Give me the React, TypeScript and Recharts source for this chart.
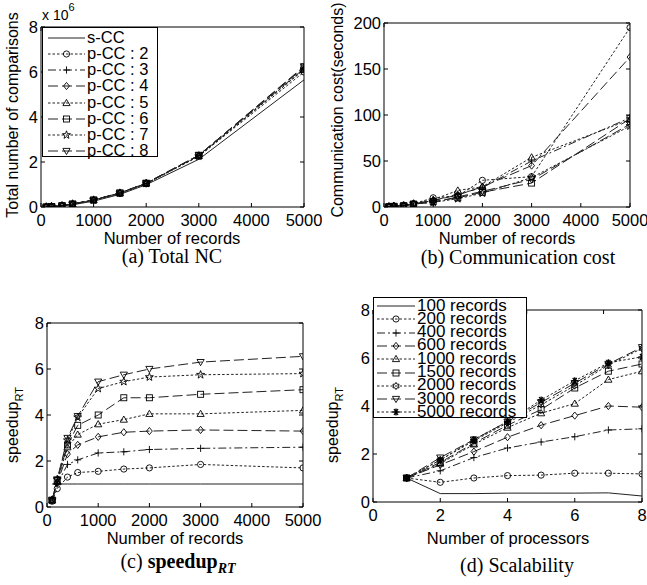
import React from 'react';
import { LineChart, Line, XAxis, YAxis } from 'recharts';

// ---------- data ----------
const records = [100, 200, 400, 600, 1000, 1500, 2000, 3000, 5000];
const processors = [1, 2, 3, 4, 5, 6, 7, 8];

const recTicks = [0, 1000, 2000, 3000, 4000, 5000];
const procTicks = [0, 2, 4, 6, 8];
const ncTicks = [0, 2e6, 4e6, 6e6, 8e6];
const ccTicks = [0, 50, 100, 150, 200];
const spTicks = [0, 2, 4, 6, 8];

// (a) total number of comparisons
const ncSCC = [5000, 20000, 45000, 100000, 260000, 560000, 990000, 2120000, 5650000];
const ncP2 = [6000, 22000, 60000, 130000, 300000, 600000, 1030000, 2250000, 6000000];
const ncP3 = [6000, 22000, 60000, 130000, 310000, 620000, 1050000, 2280000, 6150000];
const ncP4 = [6000, 22000, 62000, 135000, 310000, 620000, 1050000, 2300000, 6200000];
const ncP5 = [6000, 22000, 62000, 135000, 310000, 620000, 1050000, 2270000, 6100000];
const ncP6 = [6000, 23000, 62000, 135000, 315000, 625000, 1060000, 2300000, 6220000];
const ncP7 = [6000, 23000, 62000, 135000, 310000, 620000, 1050000, 2260000, 6120000];
const ncP8 = [6000, 23000, 63000, 140000, 315000, 630000, 1060000, 2300000, 6250000];

// (b) communication cost in seconds
const ccP2 = [0.6, 1.0, 1.6, 3.5, 10, 12, 29, 33, 195];
const ccP3 = [0.5, 0.9, 1.5, 3.3, 7, 14, 21, 50, 97];
const ccP4 = [0.5, 0.9, 1.6, 3.6, 7, 13, 22, 45, 163];
const ccP5 = [0.5, 0.9, 1.7, 3.8, 8, 18, 22, 54, 95];
const ccP6 = [0.4, 0.8, 1.4, 3.2, 6, 10, 16, 26, 96];
const ccP7 = [0.4, 0.8, 1.4, 3.3, 5, 9, 15, 32, 88];
const ccP8 = [0.4, 0.8, 1.4, 3.2, 5, 11, 17, 30, 90];

// (c) speedup_RT against number of records
const spSCC = [1, 1, 1, 1, 1, 1, 1, 1, 1];
const spP2 = [0.25, 0.8, 1.3, 1.5, 1.55, 1.65, 1.7, 1.85, 1.7];
const spP3 = [0.3, 1.0, 1.85, 2.05, 2.35, 2.4, 2.5, 2.55, 2.6];
const spP4 = [0.3, 1.05, 2.3, 2.7, 3.05, 3.25, 3.3, 3.35, 3.3];
const spP5 = [0.3, 1.1, 2.6, 3.15, 3.6, 3.8, 4.05, 4.05, 4.2];
const spP6 = [0.3, 1.15, 2.7, 3.55, 4.0, 4.75, 4.75, 4.9, 5.1];
const spP7 = [0.3, 1.2, 2.9, 3.9, 5.15, 5.45, 5.65, 5.75, 5.8];
const spP8 = [0.3, 1.2, 3.0, 3.95, 5.45, 5.75, 6.0, 6.3, 6.55];

// (d) speedup_RT against number of processors
const sc100 = [1, 0.35, 0.35, 0.37, 0.37, 0.37, 0.38, 0.25];
const sc200 = [1, 0.82, 1.0, 1.1, 1.12, 1.2, 1.2, 1.17];
const sc400 = [1, 1.3, 1.85, 2.25, 2.5, 2.72, 3.0, 3.05];
const sc600 = [1, 1.55, 2.1, 2.7, 3.2, 3.6, 4.0, 3.95];
const sc1000 = [1, 1.6, 2.4, 3.1, 3.7, 4.1, 5.1, 5.45];
const sc1500 = [1, 1.65, 2.45, 3.2, 3.85, 4.75, 5.45, 5.75];
const sc2000 = [1, 1.75, 2.55, 3.3, 4.05, 4.85, 5.7, 6.4];
const sc3000 = [1, 1.85, 2.6, 3.35, 4.15, 4.95, 5.75, 6.45];
const sc5000 = [1, 1.75, 2.6, 3.35, 4.25, 5.05, 5.8, 6.05];

const pccLabels = ['p-CC : 2', 'p-CC : 3', 'p-CC : 4', 'p-CC : 5', 'p-CC : 6', 'p-CC : 7', 'p-CC : 8'];
const recLabels = ['100 records', '200 records', '400 records', '600 records', '1000 records',
  '1500 records', '2000 records', '3000 records', '5000 records'];

// ---------- styles ----------
const FONT = '"Liberation Sans", Arial, Helvetica, sans-serif';
const SERIF = '"Liberation Serif", "Times New Roman", serif';
const DOT = '2.5 2';
const DASH = '10 4';
const DASHDOT = '8 3 2 3';
const LINE_COLOR = '#222';

const pccStyle = [
  { dash: DOT, shape: 'circle' },
  { dash: DASHDOT, shape: 'plus' },
  { dash: DASH, shape: 'diamond' },
  { dash: DOT, shape: 'triangle' },
  { dash: DASH, shape: 'square' },
  { dash: DOT, shape: 'pentagram' },
  { dash: DASH, shape: 'triangleDown' },
];
const recStyle = [
  { dash: undefined, shape: null },
  { dash: DOT, shape: 'circle' },
  { dash: DASHDOT, shape: 'plus' },
  { dash: DASH, shape: 'diamond' },
  { dash: DOT, shape: 'triangle' },
  { dash: DASH, shape: 'square' },
  { dash: DOT, shape: 'hexagram' },
  { dash: DASH, shape: 'triangleDown' },
  { dash: DOT, shape: 'asterisk' },
];

function starPoints(cx: number, cy: number, n: number, ro: number, ri: number) {
  const pts: string[] = [];
  for (let i = 0; i < n * 2; i++) {
    const r = i % 2 === 0 ? ro : ri;
    const a = -Math.PI / 2 + (i * Math.PI) / n;
    pts.push(`${cx + r * Math.cos(a)},${cy + r * Math.sin(a)}`);
  }
  return pts.join(' ');
}

function Marker({ shape, cx, cy }: { shape: string; cx: number; cy: number }) {
  const st = { fill: 'none', stroke: '#000', strokeWidth: 0.9 };
  const s = 3.6;
  if (cx == null || cy == null) return <g />;
  switch (shape) {
    case 'circle':
      return <circle cx={cx} cy={cy} r={3.1} {...st} />;
    case 'plus':
      return <path d={`M${cx - s} ${cy}H${cx + s}M${cx} ${cy - s}V${cy + s}`} {...st} />;
    case 'diamond':
      return <path d={`M${cx} ${cy - s}L${cx + 2.9} ${cy}L${cx} ${cy + s}L${cx - 2.9} ${cy}Z`} {...st} />;
    case 'triangle':
      return <path d={`M${cx} ${cy - s}L${cx + s} ${cy + 2.6}L${cx - s} ${cy + 2.6}Z`} {...st} />;
    case 'triangleDown':
      return <path d={`M${cx} ${cy + s}L${cx + s} ${cy - 2.6}L${cx - s} ${cy - 2.6}Z`} {...st} />;
    case 'square':
      return <rect x={cx - 3} y={cy - 3} width={6} height={6} {...st} />;
    case 'pentagram':
      return <polygon points={starPoints(cx, cy, 5, 4.2, 1.7)} {...st} />;
    case 'hexagram':
      return <polygon points={starPoints(cx, cy, 6, 3.6, 2.1)} {...st} />;
    case 'asterisk':
      return (
        <path
          d={`M${cx - s} ${cy}H${cx + s}M${cx - 2} ${cy - 3}L${cx + 2} ${cy + 3}M${cx + 2} ${cy - 3}L${cx - 2} ${cy + 3}M${cx} ${cy - s}V${cy + s}`}
          fill="none" stroke="#000" strokeWidth={1.3}
        />
      );
    default:
      return <g />;
  }
}

const dotFor = (shape: string) => (p: any) => (
  <Marker key={`m${p.index}`} shape={shape} cx={p.cx} cy={p.cy} />
);

function series(key: string, dash: string | undefined, shape: string | null) {
  return (
    <Line
      key={key}
      dataKey={key}
      type="linear"
      stroke={LINE_COLOR}
      strokeWidth={1}
      strokeDasharray={dash}
      dot={shape ? dotFor(shape) : false}
      activeDot={false}
      isAnimationActive={false}
    />
  );
}

const tickStyle = { fill: '#000', fontSize: 16.5, fontFamily: FONT };
const noTick = () => <g />;

function axes(xDomain: number[], xTicks: number[], yDomain: number[], yTicks: number[], yFmt?: (v: number) => string) {
  return [
    <XAxis key="xb" dataKey="x" type="number" domain={xDomain} ticks={xTicks} interval={0} height={30}
      tickSize={-4} tickMargin={11} stroke="#000" tick={tickStyle} allowDataOverflow />,
    <YAxis key="yl" type="number" domain={yDomain} ticks={yTicks} interval={0} width={40}
      tickSize={-4} tickMargin={7} stroke="#000" tick={tickStyle} tickFormatter={yFmt} allowDataOverflow />,
    <XAxis key="xt" xAxisId="top" orientation="top" type="number" domain={xDomain} ticks={xTicks} interval={0}
      height={1} tickSize={-4} stroke="#000" tick={noTick} allowDataOverflow />,
    <YAxis key="yr" yAxisId="right" orientation="right" type="number" domain={yDomain} ticks={yTicks} interval={0}
      width={1} tickSize={-4} stroke="#000" tick={noTick} allowDataOverflow />,
  ];
}

type Box = { l: number; t: number; r: number; b: number };
type Frame = { x: number; y: number; w: number; h: number };

function margins(box: Box, fr: Frame) {
  return {
    left: box.l - fr.x - 40,
    top: box.t - fr.y - 1,
    right: fr.x + fr.w - box.r - 1,
    bottom: fr.y + fr.h - box.b - 30,
  };
}

function rows(xs: number[], cols: number[][], prefix: string) {
  return xs.map((x, i) => {
    const row: Record<string, number> = { x };
    cols.forEach((c, k) => (row[`${prefix}${k}`] = c[i]));
    return row;
  });
}

function Txt({ x, y, rotate, size = 16, family = FONT, children }: any) {
  return (
    <div
      style={{
        position: 'absolute', left: x, top: y,
        transform: `translate(-50%,-50%)${rotate ? ' rotate(-90deg)' : ''}`,
        fontSize: size, fontFamily: family, whiteSpace: 'nowrap', lineHeight: 1, color: '#000',
      }}
    >
      {children}
    </div>
  );
}

function LegendBox({ x, y, w, h, items, row0, step, lx1, lx2, tx, fontSize }: any) {
  const lh = Math.floor(step);
  return (
    <div
      style={{
        position: 'absolute', left: x, top: y, width: w, height: h, boxSizing: 'border-box',
        border: '1px solid #000', background: '#fff', fontFamily: FONT, fontSize, color: '#000',
      }}
    >
      {items.map((it: any, i: number) => {
        const cy = row0 + i * step;
        return (
          <React.Fragment key={i}>
            <svg style={{ position: 'absolute', left: -1, top: cy - 7, overflow: 'visible' }} width={lx2 + 4} height={14}>
              <line x1={lx1} x2={lx2} y1={7} y2={7} stroke={LINE_COLOR} strokeDasharray={it.dash} />
              {it.shape && <Marker shape={it.shape} cx={(lx1 + lx2) / 2} cy={7} />}
            </svg>
            <div style={{ position: 'absolute', left: tx - 1, top: cy - lh / 2 - 1, height: lh, lineHeight: `${lh}px`, whiteSpace: 'nowrap' }}>
              {it.label}
            </div>
          </React.Fragment>
        );
      })}
    </div>
  );
}

// ---------- layout ----------
const FA: Frame = { x: 0, y: 0, w: 322, h: 245 };
const BA: Box = { l: 41, t: 27, r: 304, b: 207 };
const FB: Frame = { x: 330, y: 0, w: 317, h: 245 };
const BB: Box = { l: 384, t: 23, r: 630, b: 207 };
const FC: Frame = { x: 0, y: 292, w: 322, h: 245 };
const BC: Box = { l: 47, t: 323, r: 303, b: 507 };
const FD: Frame = { x: 330, y: 292, w: 317, h: 245 };
const BD: Box = { l: 373, t: 310, r: 642, b: 502 };

const ncData = rows(records, [ncSCC, ncP2, ncP3, ncP4, ncP5, ncP6, ncP7, ncP8], 's');
const ccData = rows(records, [ccP2, ccP3, ccP4, ccP5, ccP6, ccP7, ccP8], 's');
const spData = rows(records, [spSCC, spP2, spP3, spP4, spP5, spP6, spP7, spP8], 's');
const scData = rows(processors, [sc100, sc200, sc400, sc600, sc1000, sc1500, sc2000, sc3000, sc5000], 's');

const chartStyle = { fontFamily: FONT };

export default function App() {
  const legendA = [{ label: 's-CC', dash: undefined, shape: null },
    ...pccLabels.map((l, i) => ({ label: l, ...pccStyle[i] }))];
  const legendD = recLabels.map((l, i) => ({ label: l, ...recStyle[i] }));

  return (
    <div style={{ position: 'absolute', left: 0, top: 0, width: 647, height: 585, background: '#fff', overflow: 'hidden' }}>
      <div style={{ position: 'absolute', left: FA.x, top: FA.y }}>
        <LineChart width={FA.w} height={FA.h} data={ncData} margin={margins(BA, FA)} style={chartStyle}>
          {axes([0, 5000], recTicks, [0, 8e6], ncTicks, (v) => String(v / 1e6))}
          {series('s0', undefined, null)}
          {pccStyle.map((s, i) => series(`s${i + 1}`, s.dash, s.shape))}
        </LineChart>
      </div>
      <div style={{ position: 'absolute', left: FB.x, top: FB.y }}>
        <LineChart width={FB.w} height={FB.h} data={ccData} margin={margins(BB, FB)} style={chartStyle}>
          {axes([0, 5000], recTicks, [0, 200], ccTicks)}
          {pccStyle.map((s, i) => series(`s${i}`, s.dash, s.shape))}
        </LineChart>
      </div>
      <div style={{ position: 'absolute', left: FC.x, top: FC.y }}>
        <LineChart width={FC.w} height={FC.h} data={spData} margin={margins(BC, FC)} style={chartStyle}>
          {axes([0, 5000], recTicks, [0, 8], spTicks)}
          {series('s0', undefined, null)}
          {pccStyle.map((s, i) => series(`s${i + 1}`, s.dash, s.shape))}
        </LineChart>
      </div>
      <div style={{ position: 'absolute', left: FD.x, top: FD.y }}>
        <LineChart width={FD.w} height={FD.h} data={scData} margin={margins(BD, FD)} style={chartStyle}>
          {axes([0, 8], procTicks, [0, 8], spTicks)}
          {recStyle.map((s, i) => series(`s${i}`, s.dash, s.shape))}
        </LineChart>
      </div>

      {/* axis titles */}
      <Txt x={13} y={115} rotate>Total number of comparisons</Txt>
      <div style={{ position: 'absolute', left: 42, top: 8, fontFamily: FONT, fontSize: 14, lineHeight: 1 }}>
        x 10<sup style={{ fontSize: 11, verticalAlign: 'top', position: 'relative', top: -6 }}>6</sup>
      </div>
      <Txt x={172} y={238} size={16.5}>Number of records</Txt>
      <Txt x={338} y={110} rotate>Communication cost(seconds)</Txt>
      <Txt x={507} y={238} size={16.5}>Number of records</Txt>
      <Txt x={15} y={425} rotate>speedup<sub style={{ fontSize: 11 }}>RT</sub></Txt>
      <Txt x={175} y={538} size={16.5}>Number of records</Txt>
      <Txt x={335} y={425} rotate>speedup<sub style={{ fontSize: 11 }}>RT</sub></Txt>
      <Txt x={508} y={538} size={16.5}>Number of processors</Txt>

      {/* legends */}
      <LegendBox x={42} y={27} w={116} h={130} items={legendA} row0={9.7} step={16.2} lx1={6} lx2={43} tx={45} fontSize={16.5} />
      <LegendBox x={373} y={297} w={154} h={121} items={legendD} row0={8} step={13.3} lx1={4} lx2={42} tx={44} fontSize={17} />

      {/* captions */}
      <Txt x={172} y={256} size={20} family={SERIF}>(a) Total NC</Txt>
      <Txt x={518} y={257} size={20} family={SERIF}>(b) Communication cost</Txt>
      <Txt x={178} y={563} size={20} family={SERIF}>
        (c) <b>speedup</b><sub style={{ fontSize: 14 }}><i><b>RT</b></i></sub>
      </Txt>
      <Txt x={517} y={565} size={20} family={SERIF}>(d) Scalability</Txt>
    </div>
  );
}
